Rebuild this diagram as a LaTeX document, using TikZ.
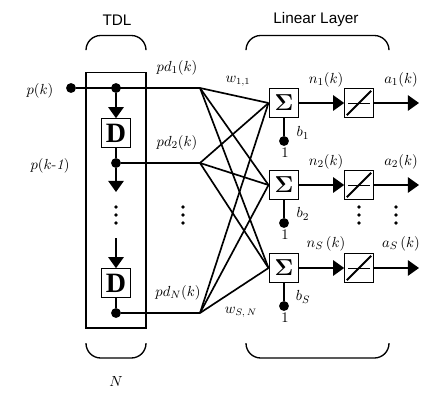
\documentclass[tikz,border=0pt]{standalone}
\usepackage{fontspec}
\newfontfamily\labelsans{Liberation Sans}
\newfontfamily\delayfont{Liberation Serif}
\usetikzlibrary{arrows.meta}
\tikzset{
  wire/.style={line width=1.4pt},
  fan/.style={line width=1.25pt},
  flow/.style={wire,-{Triangle[length=8.4pt,width=11.6pt]}},
  blockbox/.style={draw,fill=white,line width=1pt,minimum size=22.2pt,inner sep=0pt,outer sep=0pt},
  dot/.style={circle,fill=black,minimum size=7.4pt,inner sep=0pt,outer sep=0pt},
  mlabel/.style={inner sep=0pt,font=\fontsize{11}{13}\selectfont},
  blabel/.style={inner sep=0pt,font=\fontsize{10.5}{13}\selectfont},
  title/.style={inner sep=0pt,font=\labelsans\fontsize{11.5}{14}\selectfont},
  brace/.style={line width=1pt,rounded corners=11pt},
  tinydot/.style={circle,fill=black,minimum size=2.8pt,inner sep=0pt},
}
\newcommand{\dotcol}[3]{%
  \node[tinydot] (#1a) at (#2,#3-8) {};
  \node[tinydot] (#1b) at (#2,#3) {};
  \node[tinydot] (#1c) at (#2,#3+8) {};}
\begin{document}
\begin{tikzpicture}[x=0.75pt,y=-0.75pt]
\useasboundingbox (0,0) rectangle (434,404);
% TDL frame
\node[draw,line width=.85pt,minimum width=45pt,minimum height=191.5pt,inner sep=0pt] (frame) at (116,200.3) {};
% delay chain
\node[dot] (in) at (71,88) {};
\node[dot] (t1) at (116,88) {};
\node[blockbox,font=\delayfont\bfseries\fontsize{21}{21}\selectfont] (d1) at (116,133) {D};
\node[dot] (t2) at (116,163) {};
\coordinate (s1) at (116,192);
\coordinate (s2) at (116,238);
\node[blockbox,font=\delayfont\bfseries\fontsize{21}{21}\selectfont] (d2) at (116,283) {D};
\node[dot] (t3) at (116,313) {};
\coordinate (j1) at (200,88);
\coordinate (j2) at (200,163);
\coordinate (j3) at (200,313);
\draw[wire] (in) -- (j1);
\draw[wire] (t2) -- (j2);
\draw[wire] (t3) -- (j3);
\draw[flow] (t1) -- (d1);
\draw[wire] (d1) -- (t2);
\draw[flow] (t2) -- (s1);
\draw[flow] (s2) -- (d2);
\draw[wire] (d2) -- (t3);
% fan of weights
\foreach \i/\y in {1/103,2/185,3/268}{
  \coordinate (w\i) at (268.5,\y);
  \foreach \j in {1,2,3}{\draw[fan] (j\j) -- (w\i);}
}
% summers
\foreach \i/\y in {1/103,2/185,3/268}{
  \node[blockbox,font=\fontsize{18}{18}\selectfont\boldmath] (sum\i) at (284,\y) {$\Sigma$};
  \node[blockbox] (lin\i) at (359,\y) {};
  \coordinate (out\i) at (419,\y);
  \node[dot] (bias\i) at (284,\y+38) {};
  \draw[wire] (sum\i) -- (bias\i);
  \draw[flow] (sum\i) -- (lin\i);
  \draw[flow] (lin\i) -- (out\i);
  \draw[line width=.6pt] ([xshift=3pt]lin\i.west) -- ([xshift=-3pt]lin\i.east);
  \draw[wire] ([shift={(2pt,2pt)}]lin\i.south west) -- ([shift={(-2pt,-2pt)}]lin\i.north east);
  \node[blabel] (one\i) at (285,\y+50) {$1$};
}
% dots
\dotcol{va}{116}{215}
\dotcol{vb}{183}{215}
\dotcol{vc}{359}{215}
\dotcol{vd}{396}{215}
% braces
\coordinate (b1a) at (86,50); \coordinate (b1b) at (86,35.5); \coordinate (b1c) at (146,35.5); \coordinate (b1d) at (146,50);
\draw[brace] (b1a) -- (b1b) -- (b1c) -- (b1d);
\coordinate (b2a) at (246,50); \coordinate (b2b) at (246,35.5); \coordinate (b2c) at (389,35.5); \coordinate (b2d) at (389,50);
\draw[brace] (b2a) -- (b2b) -- (b2c) -- (b2d);
\coordinate (b3a) at (86,343); \coordinate (b3b) at (86,358); \coordinate (b3c) at (146,358); \coordinate (b3d) at (146,343);
\draw[brace] (b3a) -- (b3b) -- (b3c) -- (b3d);
\coordinate (b4a) at (246,343); \coordinate (b4b) at (246,358); \coordinate (b4c) at (389,358); \coordinate (b4d) at (389,343);
\draw[brace] (b4a) -- (b4b) -- (b4c) -- (b4d);
% labels
\node[title] (tTDL) at (117,20) {TDL};
\node[title] (tLL) at (316,20) {Linear Layer};
\node[mlabel] (tN) at (116,381) {$N$};
\node[mlabel] (lp) at (40,91) {$p(k)$};
\node[mlabel] (lp1) at (50,166) {$p(k\mbox{-}\mathit{1})$};
\node[mlabel] (lpd1) at (177,68) {$pd_1(k)$};
\node[mlabel] (lpd2) at (177,143) {$pd_2(k)$};
\node[mlabel] (lpdn) at (178,293) {$pd_N(k)$};
\node[blabel] (lw1) at (238,81) {$w_{1,1}$};
\node[blabel] (lw2) at (241,312) {$w_{S,\,N}$};
\node[mlabel] (ln1) at (326,80) {$n_1(k)$};
\node[mlabel] (la1) at (401,80) {$a_1(k)$};
\node[mlabel] (ln2) at (326,162) {$n_2(k)$};
\node[mlabel] (la2) at (401,162) {$a_2(k)$};
\node[mlabel] (ln3) at (326,244) {$n_S\,(k)$};
\node[mlabel] (la3) at (401,244) {$a_S\,(k)$};
\node[mlabel] (lb1) at (303,133) {$b_1$};
\node[mlabel] (lb2) at (303,214) {$b_2$};
\node[mlabel] (lb3) at (303,297) {$b_S$};
\end{tikzpicture}
\end{document}
